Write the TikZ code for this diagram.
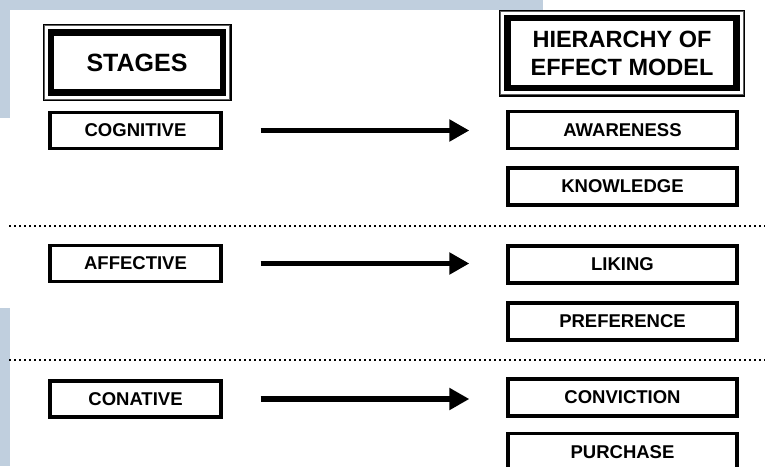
\documentclass[tikz,border=0pt]{standalone}
\usepackage{fontspec}
\setmainfont{Liberation Sans}
\usetikzlibrary{arrows.meta}
\definecolor{scanblue}{RGB}{192,207,222}
\definecolor{framegray}{RGB}{95,95,95}
\tikzset{
  smallbox/.style={draw=black, line width=3.3pt, fill=white, inner sep=0pt,
    font=\fontsize{18.5}{21}\selectfont\bfseries},
  leftbox/.style={smallbox, minimum width=171pt, minimum height=36pt},
  rightbox/.style={smallbox, minimum width=229pt, minimum height=37pt},
  headbox/.style={draw=black, line width=6.5pt, fill=white, inner sep=0pt, align=center},
  outerframe/.style={draw=black, line width=1.3pt},
  midframe/.style={draw=framegray, line width=1.6pt},
  bigarrow/.style={line width=5.5pt, -{Triangle[length=20pt,width=21pt]},
    shorten <=38pt, shorten >=37pt},
  sepline/.style={line width=2.6pt, dash pattern=on 2.4pt off 2.6pt}
}
\begin{document}
\begin{tikzpicture}[x=1pt,y=-1pt]
\useasboundingbox (0,0) rectangle (765,466);
\fill[white] (0,0) rectangle (765,466);
% scan background strips
\fill[scanblue] (0,0) rectangle (543,10);
\fill[scanblue] (0,0) rectangle (10,118);
\fill[scanblue] (0,308) rectangle (10,466);

% header boxes
\node[headbox, minimum width=172pt, minimum height=60pt,
  font=\fontsize{25}{30}\selectfont\bfseries] (stages) at (137,62.5) {STAGES};
\draw[midframe] ([shift={(-3.6,-3.6)}]stages.north west) rectangle ([shift={(3.6,3.6)}]stages.south east);
\draw[outerframe] ([shift={(-4.6,-4.6)}]stages.north west) rectangle ([shift={(4.6,4.6)}]stages.south east);
\node[headbox, minimum width=229pt, minimum height=70pt,
  font=\fontsize{23.5}{28}\selectfont\bfseries] (hier) at (622,53) {HIERARCHY OF\\EFFECT MODEL};
\draw[midframe] ([shift={(-3.6,-3.6)}]hier.north west) rectangle ([shift={(3.6,3.6)}]hier.south east);
\draw[outerframe] ([shift={(-4.6,-4.6)}]hier.north west) rectangle ([shift={(4.6,4.6)}]hier.south east);

% left stage boxes
\node[leftbox] (cog) at (135.5,130.5) {COGNITIVE};
\node[leftbox] (aff) at (135.5,263.5) {AFFECTIVE};
\node[leftbox] (con) at (135.5,399) {CONATIVE};

% right boxes
\node[rightbox] (awa) at (622.5,130) {AWARENESS};
\node[rightbox] (kno) at (622.5,186.5) {KNOWLEDGE};
\node[rightbox] (lik) at (622.5,264.5) {LIKING};
\node[rightbox] (pre) at (622.5,321.5) {PREFERENCE};
\node[rightbox] (cvc) at (622.5,397.5) {CONVICTION};
\node[rightbox] (pur) at (622.5,452) {PURCHASE};

% arrows
\draw[bigarrow] (cog.east) -- (cog.east -| awa.west);
\draw[bigarrow] (aff.east) -- (aff.east -| lik.west);
\draw[bigarrow] (con.east) -- (con.east -| cvc.west);

% dotted separators
\coordinate (s1a) at (9,226);
\coordinate (s1b) at (765,226);
\coordinate (s2a) at (9,360);
\coordinate (s2b) at (765,360);
\draw[sepline] (s1a) -- (s1b);
\draw[sepline] (s2a) -- (s2b);
\end{tikzpicture}
\end{document}
